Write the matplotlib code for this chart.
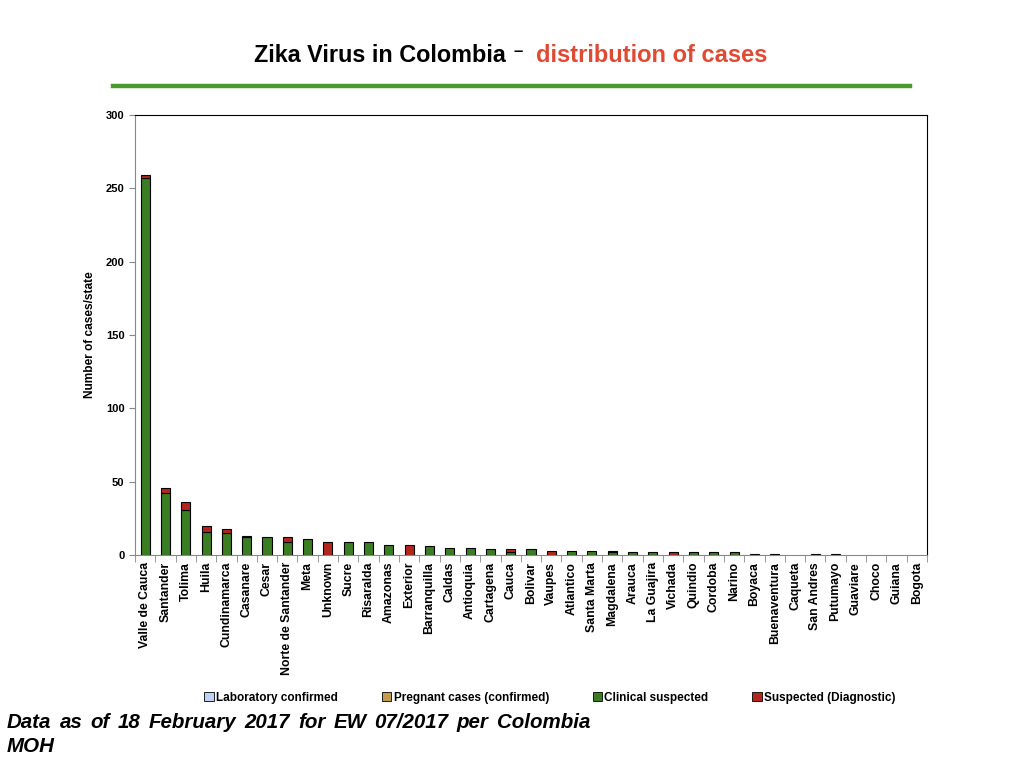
"""Zika virus in Colombia: stacked bars of cases per state."""

import matplotlib
matplotlib.use("Agg")
import matplotlib.pyplot as plt
from matplotlib.lines import Line2D
from matplotlib.patches import Patch
import numpy as np

plt.rcParams["font.family"] = ["Liberation Sans", "DejaVu Sans"]

states = [
    "Valle de Cauca", "Santander", "Tolima", "Huila", "Cundinamarca", "Casanare",
    "Cesar", "Norte de Santander", "Meta", "Unknown", "Sucre", "Risaralda",
    "Amazonas", "Exterior", "Barranquilla", "Caldas", "Antioquia", "Cartagena",
    "Cauca", "Bolivar", "Vaupes", "Atlantico", "Santa Marta", "Magdalena",
    "Arauca", "La Guajira", "Vichada", "Quindio", "Cordoba", "Narino", "Boyaca",
    "Buenaventura", "Caqueta", "San Andres", "Putumayo", "Guaviare", "Choco",
    "Guiana", "Bogota",
]
lab_confirmed = [0] * len(states)
pregnant_confirmed = [0] * len(states)
clinical_suspected = [257, 42, 31, 16, 15, 12, 12, 9, 11, 0, 9, 9, 7, 0, 6, 5, 5, 4,
                      2, 4, 0, 3, 3, 2, 2, 2, 0, 2, 2, 2, 1, 1, 0, 0, 1, 0, 0, 0, 0]
suspected_diag = [2, 4, 5, 4, 3, 1, 0, 3, 0, 9, 0, 0, 0, 7, 0, 0, 0, 0,
                  2, 0, 3, 0, 0, 1, 0, 0, 2, 0, 0, 0, 0, 0, 0, 1, 0, 0, 0, 0, 0]

series_names = ["Laboratory confirmed", "Pregnant cases (confirmed)",
                "Clinical suspected", "Suspected (Diagnostic)"]
series_colors = ["#bfd1ee", "#c49a4c", "#3b7d23", "#b3261e"]

footer_words = "Data as of 18 February 2017 for EW 07/2017 per Colombia".split()

fig = plt.figure(figsize=(10.24, 7.68), dpi=100)
ax = fig.add_axes([135 / 1024, 213 / 768, 792 / 1024, 440 / 768])

x = np.arange(len(states))
bottom = np.zeros(len(states))
for vals, color in zip([lab_confirmed, pregnant_confirmed, clinical_suspected, suspected_diag],
                       series_colors):
    vals = np.asarray(vals, dtype=float)
    mask = vals > 0
    ax.bar(x[mask], vals[mask], bottom=bottom[mask], width=0.45, color=color,
           edgecolor="black", linewidth=0.8)
    bottom += vals

ax.set_xlim(-0.5, len(states) - 0.5)
ax.set_ylim(0, 300)
ax.set_yticks(range(0, 301, 50))
ax.set_xticks(x)
ax.set_xticklabels(states, rotation=90, fontsize=8.8, fontweight="bold")
ax.set_xticks(np.arange(-0.5, len(states), 1), minor=True)
ax.tick_params(axis="x", which="major", length=0, pad=5)
ax.tick_params(axis="x", which="minor", length=5, color="#888888", direction="out")
ax.tick_params(axis="y", length=4, color="#888888", labelsize=8)
for lbl in ax.get_yticklabels():
    lbl.set_fontweight("bold")
ax.spines["left"].set_color("#888888")
ax.spines["bottom"].set_color("#888888")
ax.spines["top"].set_color("black")
ax.spines["right"].set_color("black")
ax.set_ylabel("Number of cases/state", fontsize=8.6, fontweight="bold", labelpad=7)

# title and rule
fig.text(254 / 1024, 1 - 55 / 768, "Zika Virus in Colombia", fontsize=16.8,
         fontweight="bold", color="black", ha="left", va="center")
fig.text(513 / 1024, 1 - 51 / 768, "–", fontsize=12, fontweight="bold",
         color="black", ha="left", va="center")
fig.text(536 / 1024, 1 - 55 / 768, "distribution of cases", fontsize=17,
         fontweight="bold", color="#e04a34", ha="left", va="center")
fig.add_artist(Line2D([113 / 1024, 910 / 1024], [1 - 86 / 768, 1 - 86 / 768],
                      transform=fig.transFigure, color="#4a9a2f", linewidth=3.2))

handles = [Patch(facecolor=c, edgecolor="black", linewidth=0.6) for c in series_colors]
fig.legend(handles, series_names, loc="center", bbox_to_anchor=(550 / 1024, 1 - 698 / 768),
           ncol=4, frameon=False, handlelength=0.8, handleheight=0.8,
           handletextpad=0.2, columnspacing=3.7,
           prop={"weight": "bold", "size": 8.5})

# justified footer line
renderer = fig.canvas.get_renderer()
word_texts = [fig.text(0, 1 - 722 / 768, w, fontsize=14.8, fontweight="bold",
                       style="italic", ha="left", va="center") for w in footer_words]
widths = [t.get_window_extent(renderer).width for t in word_texts]
left_px, right_px = 7, 590
gap = (right_px - left_px - sum(widths)) / (len(word_texts) - 1)
pos = left_px
for t, w in zip(word_texts, widths):
    t.set_x(pos / 1024)
    pos += w + gap
fig.text(7 / 1024, 1 - 746 / 768, "MOH", fontsize=14.8, fontweight="bold",
         style="italic", ha="left", va="center")

fig.savefig("out.png", dpi=100)
